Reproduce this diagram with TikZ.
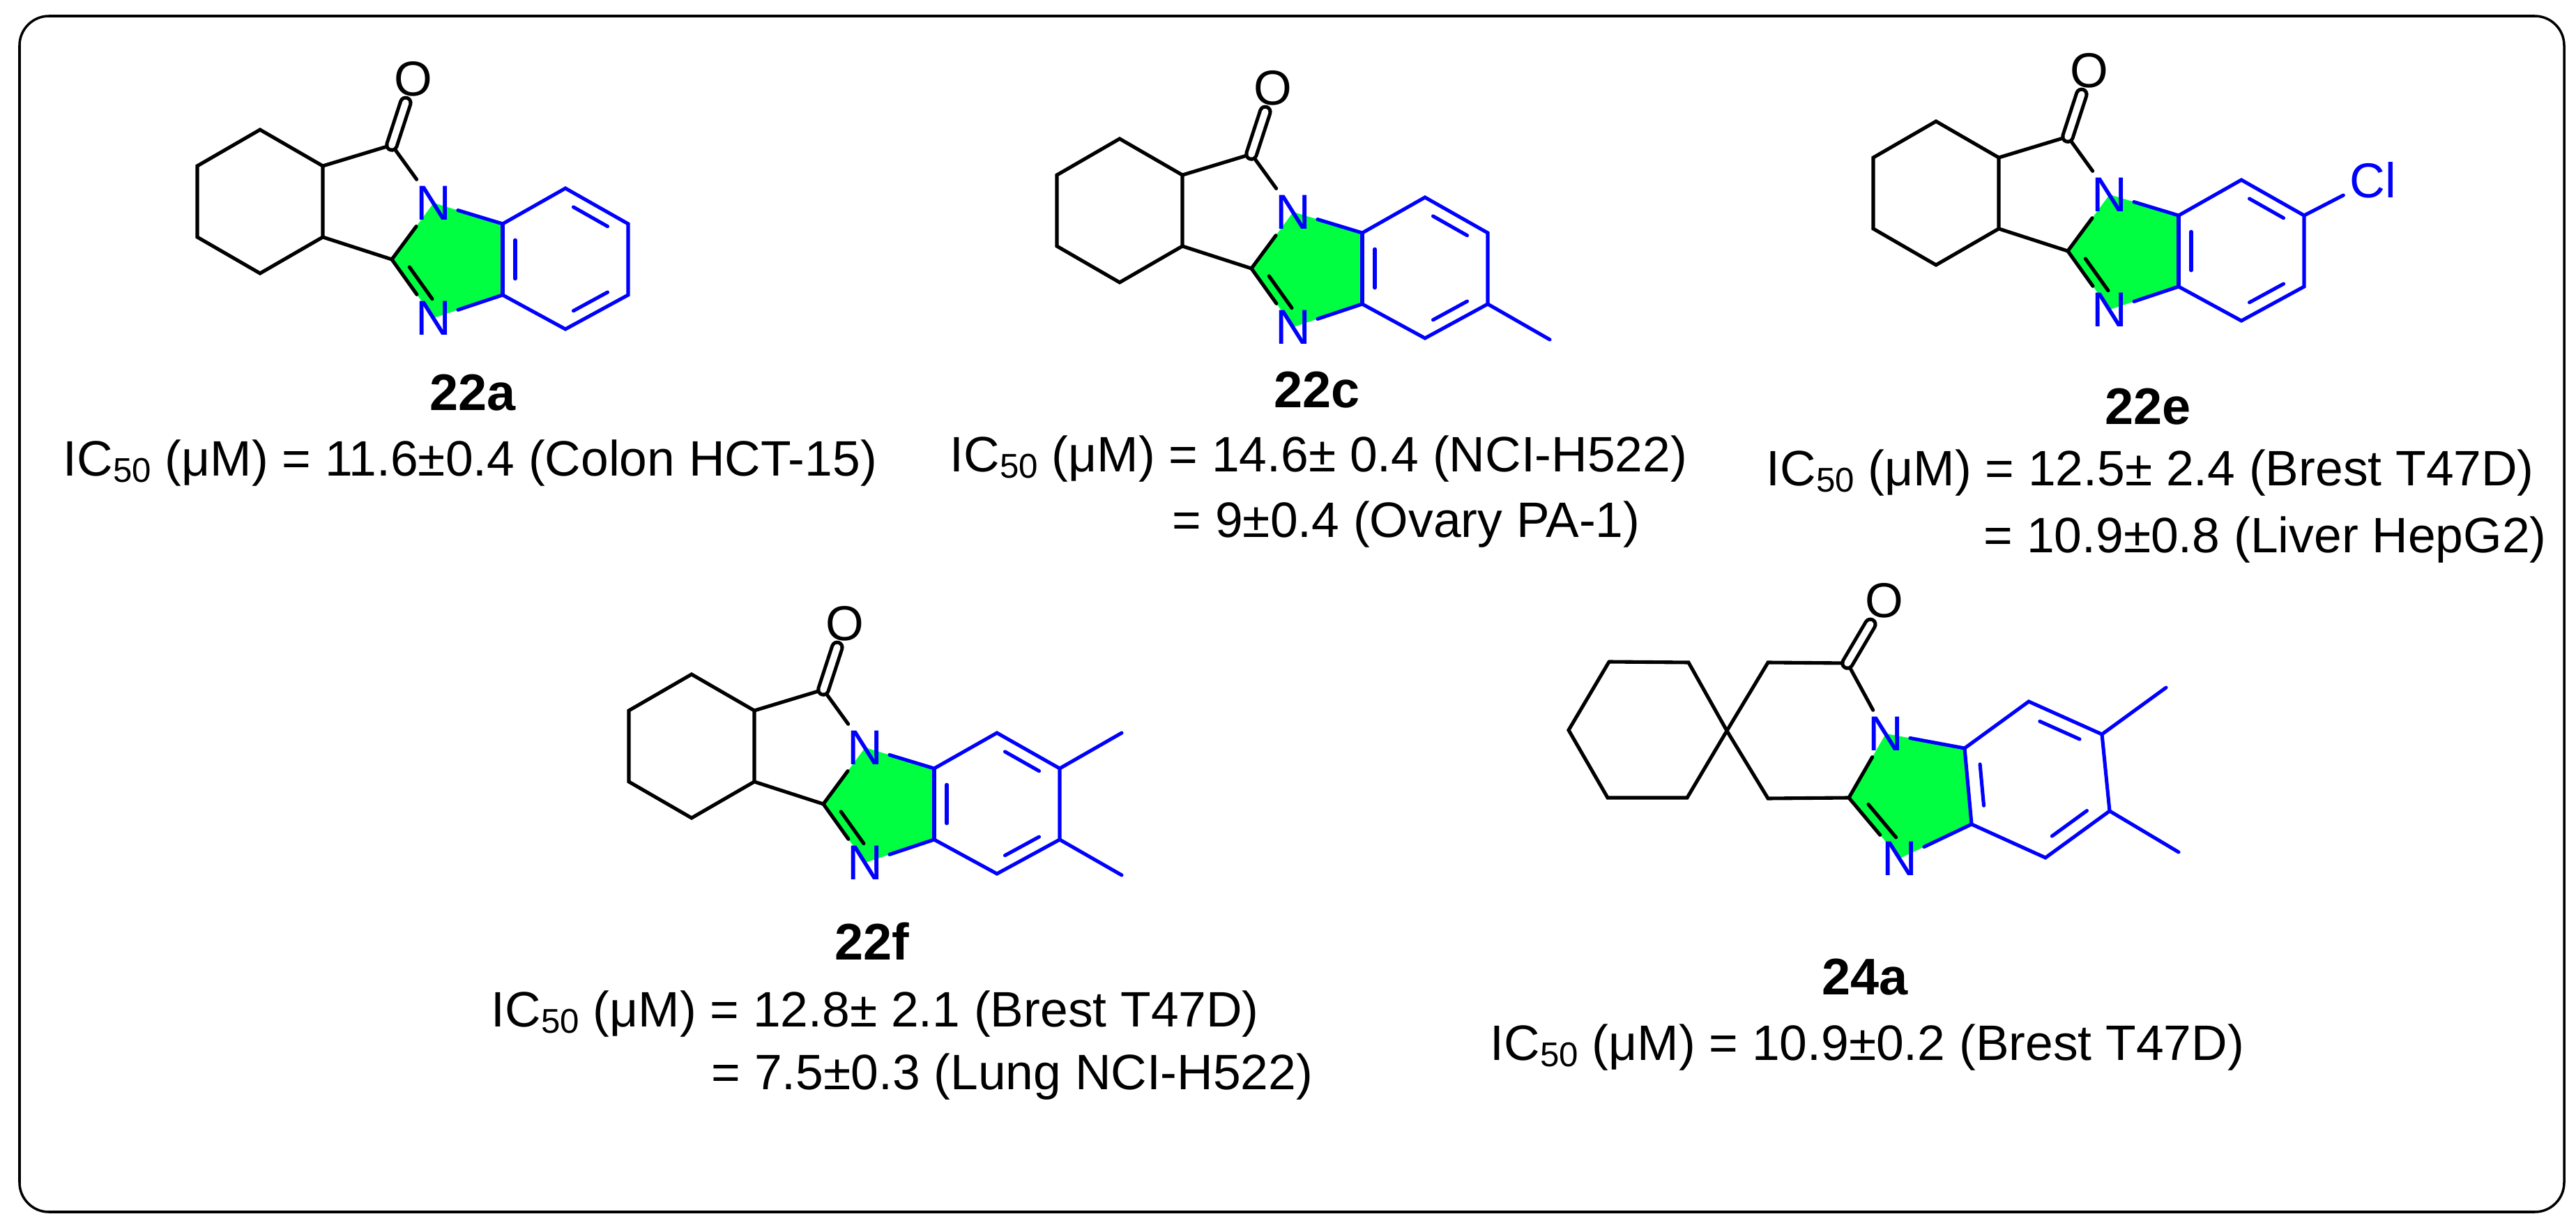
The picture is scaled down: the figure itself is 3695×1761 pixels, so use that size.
\documentclass[tikz,border=0pt]{standalone}
\usepackage{fontspec}
\setmainfont{Liberation Sans}
\usetikzlibrary{calc}
\definecolor{bl}{RGB}{0,0,255}
\definecolor{gr}{RGB}{0,255,64}
\tikzset{
  bd/.style={line width=1.45pt, line cap=round},
  blb/.style={bd, draw=bl},
  atom/.style={font=\fontsize{20}{22}\selectfont, inner sep=2.5pt},
  natom/.style={atom, text=bl},
  lbl/.style={font=\fontsize{21}{24}\selectfont\bfseries},
  txt/.style={font=\fontsize{20.3}{24}\selectfont, anchor=west, inner sep=0pt},
}
\newcommand\sub[1]{\raisebox{-0.25ex}{\fontsize{14}{16}\selectfont #1}}
\newcommand\innerbond[4][]{\draw[bd,#1] ($($(#2)!.16!(#3)$)!.2!(#4)$) -- ($($(#3)!.16!(#2)$)!.2!(#4)$);}
\newcommand\corescaffold[1]{%
  \coordinate (#1c1) at (373,186); \coordinate (#1c2) at (283,238);
  \coordinate (#1c3) at (283,340); \coordinate (#1c4) at (373,392);
  \coordinate (#1c5) at (463,340); \coordinate (#1c6) at (463,238);
  \coordinate (#1C1) at (562,208); \coordinate (#1C2) at (562,372);
  \coordinate (#1C3a) at (721,321); \coordinate (#1C7a) at (721,423);
  \coordinate (#1b1) at (811,270); \coordinate (#1b2) at (901,321);
  \coordinate (#1b3) at (901,423); \coordinate (#1b4) at (811,472);
  \coordinate (#1Zb) at (811,372); \coordinate (#1Z5) at (650,373);
  \fill[gr] (622,291) -- (#1C2) -- (622,456) -- (#1C7a) -- (#1C3a) -- cycle;
  \node[atom] (#1O) at (593,113) {O};
  \node[natom] (#1N1) at (622,291) {N};
  \node[natom] (#1N3) at (622,456) {N};
  \draw[bd] (#1c6) -- (#1c1) -- (#1c2) -- (#1c3) -- (#1c4) -- (#1c5) -- (#1c6) -- (#1C1) -- (#1N1);
  \draw[bd] (#1c5) -- (#1C2) -- (#1N1);
  \draw[bd] (#1C2) -- (#1N3);
  \innerbond{#1C2}{#1N3}{#1Z5}
  \draw[bd, double, double distance=2.7pt] (#1C1) -- (#1O);
  \draw[blb] (#1N1) -- (#1C3a) -- (#1b1) -- (#1b2) -- (#1b3) -- (#1b4) -- (#1C7a) -- (#1N3);
  \draw[blb] (#1C3a) -- (#1C7a);
  \innerbond[bl]{#1C3a}{#1C7a}{#1Zb}
  \innerbond[bl]{#1b1}{#1b2}{#1Zb}
  \innerbond[bl]{#1b3}{#1b4}{#1Zb}
}
\begin{document}
\begin{tikzpicture}[x=0.01cm,y=-0.01cm]
\useasboundingbox (0,0) rectangle (3695,1761);
\draw[line width=1pt, rounded corners=12pt] (28,23) rectangle (3678,1738);
% 22a
\begin{scope}\corescaffold{a}\end{scope}
% 22c
\begin{scope}[shift={(1233,13)}]\corescaffold{c}
  \coordinate (cMe) at (990,474);
  \draw[blb] (cb3) -- (cMe);
\end{scope}
% 22e
\begin{scope}[shift={(2404,-12)}]\corescaffold{e}
  \node[natom] (eCl) at (1000,270) {Cl};
  \draw[blb] (eb2) -- (eCl);
\end{scope}
% 22f
\begin{scope}[shift={(619,781)}]\corescaffold{f}
  \coordinate (fMe1) at (990,270); \coordinate (fMe2) at (990,474);
  \draw[blb] (fb2) -- (fMe1); \draw[blb] (fb3) -- (fMe2);
\end{scope}
% 24a
\coordinate (s1) at (2308,949); \coordinate (s2) at (2422,950);
\coordinate (sp) at (2477,1048); \coordinate (s4) at (2420,1144);
\coordinate (s5) at (2306,1144); \coordinate (s6) at (2250,1047);
\coordinate (r1) at (2536,950); \coordinate (rC) at (2650,951);
\coordinate (rC2) at (2652,1144); \coordinate (r3) at (2536,1145);
\coordinate (rC3a) at (2818,1073); \coordinate (rC7a) at (2828,1182);
\coordinate (rb1) at (2910,1006); \coordinate (rb2) at (3015,1053);
\coordinate (rb3) at (3026,1163); \coordinate (rb4) at (2934,1230);
\coordinate (rMe1) at (3107,986); \coordinate (rMe2) at (3125,1222);
\coordinate (rZb) at (2922,1118); \coordinate (rZ5) at (2745,1136);
\fill[gr] (2705,1052) -- (rC2) -- (2725,1231) -- (rC7a) -- (rC3a) -- cycle;
\node[atom] (rO) at (2703,861) {O};
\node[natom] (rN1) at (2705,1052) {N};
\node[natom] (rN3) at (2725,1231) {N};
\draw[bd] (s1) -- (s2) -- (sp) -- (s4) -- (s5) -- (s6) -- (s1);
\draw[bd] (sp) -- (r1) -- (rC) -- (rN1);
\draw[bd] (sp) -- (r3) -- (rC2) -- (rN1);
\draw[bd] (rC2) -- (rN3);
\innerbond{rC2}{rN3}{rZ5}
\draw[bd, double, double distance=2.7pt] (rC) -- (rO);
\draw[blb] (rN1) -- (rC3a) -- (rb1) -- (rb2) -- (rb3) -- (rb4) -- (rC7a) -- (rN3);
\draw[blb] (rC3a) -- (rC7a);
\draw[blb] (rb2) -- (rMe1); \draw[blb] (rb3) -- (rMe2);
\innerbond[bl]{rC3a}{rC7a}{rZb}
\innerbond[bl]{rb1}{rb2}{rZb}
\innerbond[bl]{rb3}{rb4}{rZb}
% labels
\node[lbl] (la) at (678,563) {22a};
\node[lbl] (lc) at (1889,559) {22c};
\node[lbl] (le) at (3081,583) {22e};
\node[lbl] (lf) at (1251,1350) {22f};
\node[lbl] (lr) at (2675,1401) {24a};
\node[txt] (ta) at (90,664) {IC\sub{50} (μM) = 11.6±0.4 (Colon HCT-15)};
\node[txt] (tc1) at (1362,658) {IC\sub{50} (μM) = 14.6± 0.4 (NCI-H522)};
\node[txt] (tc2) at (1681,752) {= 9±0.4 (Ovary PA-1)};
\node[txt] (te1) at (2533,678) {IC\sub{50} (μM) = 12.5± 2.4 (Brest T47D)};
\node[txt] (te2) at (2845,774) {= 10.9±0.8 (Liver HepG2)};
\node[txt] (tf1) at (704,1454) {IC\sub{50} (μM) = 12.8± 2.1 (Brest T47D)};
\node[txt] (tf2) at (1020,1544) {= 7.5±0.3 (Lung NCI-H522)};
\node[txt] (tr) at (2137,1502) {IC\sub{50} (μM) = 10.9±0.2 (Brest T47D)};
\end{tikzpicture}
\end{document}
